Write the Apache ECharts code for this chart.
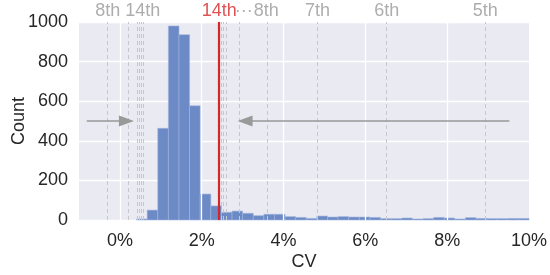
<!DOCTYPE html>
<html>
<head>
    <title>CV histogram</title>
    <script src="https://cdn.jsdelivr.net/npm/echarts@6/dist/echarts.min.js"></script>
    <style>
        html, body { margin: 0; padding: 0; background: #fff; }
        #chart { width: 550px; height: 275px; }
    </style>
</head>
<body>
    <div id="chart"></div>

    <script>
    // histogram bins (CV in %)
    const binStart = 0.407;
    const binWidth = 0.2593;
    const counts = [5, 50, 463, 980, 936, 577, 131, 71, 39, 45, 34, 22, 29, 29, 17, 13, 8, 20,
                    15, 17, 15, 15, 13, 7, 7, 10, 5, 7, 13, 10, 5, 12, 8, 7, 7, 8, 8];

    const xTicks = [0, 2, 4, 6, 8];
    // percentile lines
    const leftLines = [-0.30, 0.21, 0.42, 0.47, 0.51, 0.56];
    const rightLines = [2.48, 2.53, 2.61, 2.91, 3.60, 4.83, 6.52, 8.93];
    const redLine = 2.41;

    const labelNames = ['8th', '14th', '14th', '···', '8th', '7th', '6th', '5th'];
    const labelPos = [-0.30, 0.56, 2.43, 3.03, 3.58, 4.83, 6.52, 8.93];
    const labelRed = [false, false, true, false, false, false, false, false];

    // arrows: [from, to]
    const leftArrow = [[-0.81, 500], [0.16, 500]];
    const rightArrow = [[9.52, 500], [3.06, 500]];

    const gray = '#999999';
    const red = '#d62728';
    const dark = '#262626';
    const font = 'Liberation Sans, Arial, sans-serif';
    const fs = 18;

    const chart = echarts.init(document.getElementById('chart'));

    const bins = counts.map((c, i) => [binStart + i * binWidth, binStart + (i + 1) * binWidth, c]);

    chart.setOption({
        animation: false,
        textStyle: { fontFamily: font },
        grid: {
            left: 79, right: 21, top: 22, bottom: 55,
            outerBoundsMode: 'none', containLabel: false,
            show: true, backgroundColor: '#eaeaf2', borderWidth: 0
        },
        xAxis: {
            type: 'value', min: -1, max: 10, interval: 1,
            name: 'CV', nameLocation: 'middle', nameGap: 33, nameMoveOverlap: false,
            nameTextStyle: { fontSize: 18, color: dark },
            axisLine: { show: false }, axisTick: { show: false },
            splitLine: { show: false },
            axisLabel: {
                fontSize: fs, color: dark, margin: 12,
                formatter: v => (v % 2 === 0 && v >= 0) ? v + '%' : ''
            }
        },
        yAxis: {
            type: 'value', min: 0, max: 1000, interval: 200,
            name: 'Count', nameLocation: 'middle', nameGap: 51, nameMoveOverlap: false,
            nameTextStyle: { fontSize: 18, color: dark },
            axisLine: { show: false }, axisTick: { show: false },
            splitLine: { lineStyle: { color: '#ffffff', width: 1.3 } },
            axisLabel: { fontSize: fs, color: dark, margin: 11, formatter: v => String(v) }
        },
        series: [
            {
                // white vertical grid lines
                type: 'line', data: [], z: 1, silent: true,
                markLine: {
                    symbol: 'none', silent: true, animation: false,
                    label: { show: false },
                    lineStyle: { color: '#ffffff', width: 1.3, type: 'solid' },
                    data: xTicks.map(v => ({ xAxis: v }))
                }
            },
            {
                // percentile dashed lines
                type: 'line', data: [], z: 1.5, silent: true,
                markLine: {
                    symbol: 'none', silent: true, animation: false,
                    label: { show: false },
                    lineStyle: { color: '#c6c6cc', width: 1, type: [4, 3] },
                    data: leftLines.concat(rightLines).map(v => ({ xAxis: v }))
                }
            },
            {
                type: 'custom', z: 3,
                data: bins,
                renderItem: (params, api) => {
                    const p0 = api.coord([api.value(0), api.value(2)]);
                    const p1 = api.coord([api.value(1), 0]);
                    return {
                        type: 'rect',
                        shape: { x: p0[0], y: p0[1], width: p1[0] - p0[0], height: p1[1] - p0[1] },
                        style: { fill: '#6b8ac6', stroke: '#a3b5dd', lineWidth: 0.6 }
                    };
                }
            },
            {
                // red line and arrows
                type: 'line', data: [], z: 4, silent: true,
                markLine: {
                    silent: true, animation: false,
                    label: { show: false },
                    data: [
                        [{ coord: [redLine, 0], symbol: 'none', lineStyle: { color: red, width: 2.2, type: 'solid' } },
                         { coord: [redLine, 1000], symbol: 'none' }],
                        [{ coord: leftArrow[0], symbol: 'none', lineStyle: { color: gray, width: 1.6, type: 'solid' } },
                         { coord: leftArrow[1], symbol: 'triangle', symbolSize: [11, 15] }],
                        [{ coord: rightArrow[0], symbol: 'none', lineStyle: { color: gray, width: 1.6, type: 'solid' } },
                         { coord: rightArrow[1], symbol: 'triangle', symbolSize: [11, 15] }]
                    ]
                }
            },
            {
                // labels above plot
                type: 'scatter', z: 5, silent: true,
                symbolSize: 0,
                data: labelNames.map((n, i) => ({
                    value: [labelPos[i], 1000],
                    name: n,
                    label: { color: labelRed[i] ? red : gray }
                })),
                label: {
                    show: true, position: 'top', distance: 2,
                    fontSize: fs, formatter: p => p.name
                }
            }
        ]
    });
    </script>
</body>
</html>
